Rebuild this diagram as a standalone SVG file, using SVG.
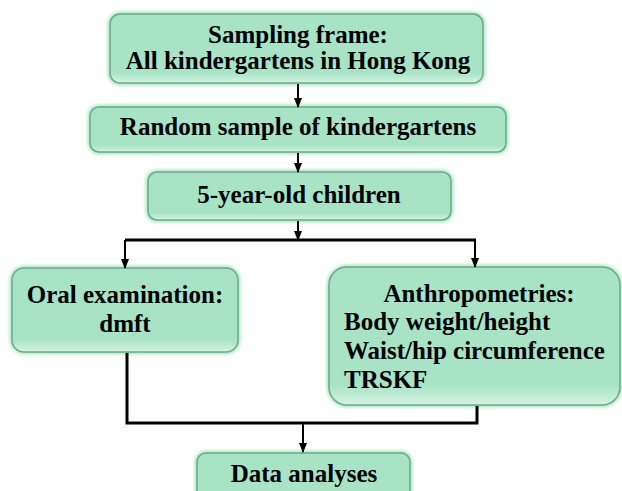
<svg xmlns="http://www.w3.org/2000/svg" width="622" height="491" viewBox="0 0 622 491">
<defs>
<style>
.box{stroke:#6ea88b;stroke-width:1.5}
.glow{fill:none;stroke:#86e0aa;stroke-width:5;opacity:0.7}
.t{font-family:'Liberation Serif','Times New Roman',serif;font-weight:bold;font-size:25px;fill:#000}
.c{text-anchor:middle}
.ln{fill:none;stroke:#000;stroke-width:2}
.lt{fill:none;stroke:#000;stroke-width:3}
</style>
<filter id="blur" x="-10%" y="-20%" width="120%" height="140%"><feGaussianBlur stdDeviation="1.5"/></filter>
<linearGradient id="gl" x1="0" y1="0" x2="0" y2="1">
<stop offset="0" stop-color="#a7e3c4"/>
<stop offset="0.85" stop-color="#a7e3c4"/>
<stop offset="1" stop-color="#d6f3e3"/>
</linearGradient>
<marker id="ah" markerUnits="userSpaceOnUse" markerWidth="10" markerHeight="10" viewBox="0 0 10 10" refX="9" refY="5" orient="auto">
<path d="M0,1 L10,5 L0,9 Z" fill="#000"/>
</marker>
</defs>
<g id="n1">
<rect class="glow" filter="url(#blur)" x="110" y="14" width="373" height="69" rx="10"/>
<rect class="box" fill="url(#gl)" x="110" y="14" width="373" height="69" rx="10"/>
<text class="t c" x="298" y="43">Sampling frame:</text>
<text class="t c" x="298" y="69">All kindergartens in Hong Kong</text>
</g>
<g id="n2">
<rect class="glow" filter="url(#blur)" x="90" y="107" width="416" height="45" rx="9"/>
<rect class="box" fill="url(#gl)" x="90" y="107" width="416" height="45" rx="9"/>
<text class="t c" x="298" y="135">Random sample of kindergartens</text>
</g>
<g id="n3">
<rect class="glow" filter="url(#blur)" x="148" y="172" width="303" height="48" rx="9"/>
<rect class="box" fill="url(#gl)" x="148" y="172" width="303" height="48" rx="9"/>
<text class="t c" x="299" y="203">5-year-old children</text>
</g>
<g id="n4">
<rect class="glow" filter="url(#blur)" x="12" y="268" width="226" height="84" rx="12"/>
<rect class="box" fill="url(#gl)" x="12" y="268" width="226" height="84" rx="12"/>
<text class="t c" x="125" y="303">Oral examination:</text>
<text class="t c" x="125" y="332">dmft</text>
</g>
<g id="n5">
<rect class="glow" filter="url(#blur)" x="329" y="267" width="291" height="138" rx="18"/>
<rect class="box" fill="url(#gl)" x="329" y="267" width="291" height="138" rx="18"/>
<text class="t c" x="479" y="302">Anthropometries:</text>
<text class="t" x="344" y="330">Body weight/height</text>
<text class="t" x="344" y="359">Waist/hip circumference</text>
<text class="t" x="344" y="388">TRSKF</text>
</g>
<g id="n6">
<rect class="glow" filter="url(#blur)" x="197" y="453" width="213" height="50" rx="9"/>
<rect class="box" fill="url(#gl)" x="197" y="453" width="213" height="50" rx="9"/>
<text class="t c" x="304" y="482">Data analyses</text>
</g>
<g id="connectors">
<line class="ln" x1="298" y1="84" x2="298" y2="107" marker-end="url(#ah)"/>
<line class="ln" x1="298" y1="153" x2="298" y2="172" marker-end="url(#ah)"/>
<line class="ln" x1="298" y1="221" x2="298" y2="240" marker-end="url(#ah)"/>
<polyline class="lt" points="125,240 476,240"/>
<line class="ln" x1="125" y1="240" x2="125" y2="268" marker-end="url(#ah)"/>
<line class="ln" x1="475" y1="240" x2="475" y2="267" marker-end="url(#ah)"/>
<polyline class="lt" points="127,353 127,423 477,423 477,406"/>
<line class="ln" x1="303" y1="424" x2="303" y2="452" marker-end="url(#ah)"/>
</g>
</svg>
